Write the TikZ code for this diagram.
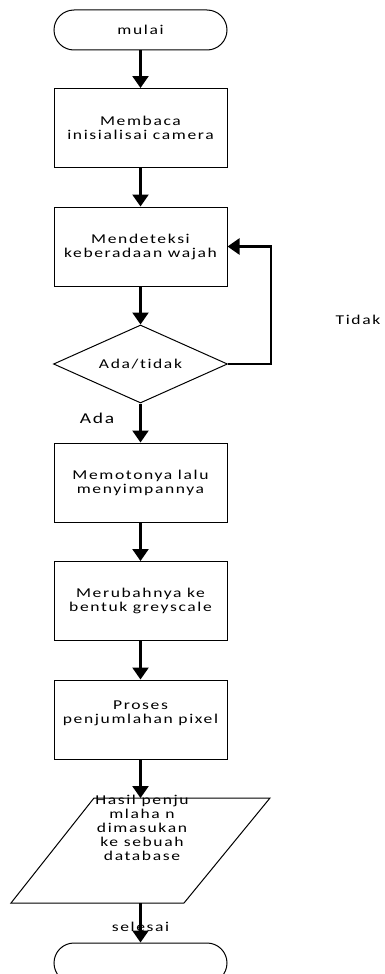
\documentclass[tikz,border=0pt]{standalone}
\usepackage{fontspec}
\setmainfont{Carlito}[FakeStretch=1.3,LetterSpace=12,Ligatures={NoCommon}]
\usetikzlibrary{shapes.geometric,arrows.meta}

\begin{document}
\begin{tikzpicture}[x=1pt, y=-1pt,
    box/.style={draw,line width=1pt,minimum width=173,minimum height=79,inner sep=2,align=center,font=\fontsize{13.5}{14}\selectfont},
    terminal/.style={draw,line width=1pt,rounded corners=20,minimum width=173,minimum height=40,inner sep=2,font=\fontsize{13.5}{14}\selectfont},
    decision/.style={draw,diamond,aspect=2.2,line width=1pt,minimum width=174,minimum height=78,inner sep=0,font=\fontsize{13.5}{14}\selectfont},
    tag/.style={inner sep=1,font=\fontsize{13.5}{14}\selectfont},
    arrow/.style={-{Triangle[width=16pt,length=12pt]},line width=2.5pt}
    ]

    \useasboundingbox (0, 0) rectangle (385, 974);

    \node (start) at (140.5, 30) [terminal] {mulai};
    \node (read) at (140.5, 128) [box] {Membaca\\inisialisai camera};
    \node (detect) at (140.5, 246.5) [box] {Mendeteksi\\keberadaan wajah};
    \node (check) at (140.5, 364) [decision] {Ada/tidak};
    \node (crop) at (140.5, 482.5) [box] {Memotonya lalu\\menyimpannya};
    \node (gray) at (140.5, 601) [box] {Merubahnya ke\\bentuk greyscale};
    \node (count) at (140.5, 719.5) [box] {Proses\\penjumlahan pixel\\\mbox{}};
    \coordinate (p1) at (94, 798);
    \coordinate (p2) at (270, 798);
    \coordinate (p3) at (184, 903);
    \coordinate (p4) at (11, 903);
    \coordinate (storetop) at (140.5, 798);
    \coordinate (storebot) at (140.5, 903);
    \draw [line width=1pt] (p1) -- (p2) -- (p3) -- (p4) -- cycle;
    \node (store) at (142, 828) [tag,align=center] {Hasil penju\\mlaha n\\dimasukan\\ke sebuah\\database};
    \node (stop) at (140.5, 963) [terminal] {};
    \node (ada) at (97, 418) [tag,font=\fontsize{15}{16}\selectfont] {Ada};
    \node (tidak) at (358, 320) [tag] {Tidak};
    \node (selesai) at (140.5, 927) [tag] {selesai};

    \draw [arrow] (start) to (read);
    \draw [arrow] (read) to (detect);
    \draw [arrow] (detect) to (check);
    \draw [arrow] (check.east) -- ++(43, 0) |- (detect.east);
    \draw [arrow] (check) to (crop);
    \draw [arrow] (crop) to (gray);
    \draw [arrow] (gray) to (count);
    \draw [arrow] (count) to (storetop);
    \draw [arrow] (storebot) to (stop);

  \end{tikzpicture}
\end{document}
